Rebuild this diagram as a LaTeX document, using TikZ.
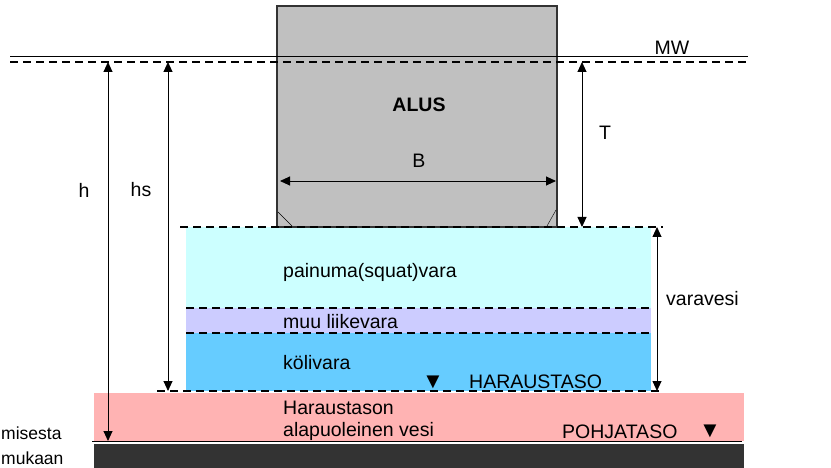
\documentclass[tikz,border=0pt]{standalone}
\usepackage{fontspec}
\setmainfont{Liberation Sans}
\usetikzlibrary{arrows.meta}

\definecolor{shipgray}{HTML}{C0C0C0}
\definecolor{squatcol}{HTML}{CCFFFF}
\definecolor{motioncol}{HTML}{CCCCFF}
\definecolor{keelcol}{HTML}{66CCFF}
\definecolor{bedcol}{HTML}{FFB3B3}
\definecolor{bottomcol}{HTML}{333333}

\tikzset{
  lvl/.style={dash pattern=on 8pt off 5pt, line width=1.2pt},
  dim/.style={{Triangle[length=10pt,width=9pt]}-{Triangle[length=10pt,width=9pt]}, line width=0.9pt},
  txt/.style={inner sep=0pt, font=\fontsize{19.5}{22}\selectfont},
  levelmark/.style={inner sep=0pt, font=\fontsize{22}{22}\selectfont}
}

\begin{document}
\begin{tikzpicture}[x=1pt,y=-1pt]
  \useasboundingbox (0,0) rectangle (831,468);

  % layers under the keel
  \fill[bedcol] (94,393) rectangle (744,441);
  \fill[bottomcol] (94,444) rectangle (744,468);
  \fill[squatcol] (186,227) rectangle (651,308);
  \fill[motioncol] (186,308) rectangle (651,333);
  \fill[keelcol] (186,333) rectangle (651,391);
  \draw[line width=1pt] (92,441) -- (742,441);

  % ship
  \draw[fill=shipgray, draw=bottomcol, line width=1.2pt] (277,6) rectangle (557,227);
  \draw (278,212) -- (292,226);
  \draw (556,210) -- (547,226);

  % water levels
  \draw[line width=1pt] (10,57) -- (748,57);
  \draw[lvl] (10,62) -- (748,62);
  \draw[lvl] (180,227) -- (663,227);
  \draw[lvl] (186,308) -- (651,308);
  \draw[lvl] (186,333) -- (651,333);
  \draw[lvl] (157,391) -- (662,391);

  % end points of the dimensions
  \coordinate (hTop) at (108,62);
  \coordinate (hBot) at (108,441);
  \coordinate (hsTop) at (168,62);
  \coordinate (hsBot) at (168,391);
  \coordinate (tTop) at (582,62);
  \coordinate (tBot) at (582,227);
  \coordinate (vTop) at (657,227);
  \coordinate (vBot) at (657,391);
  \coordinate (bL) at (280,181);
  \coordinate (bR) at (556,181);

  \draw[dim] (hTop) -- (hBot);
  \draw[dim] (hsTop) -- (hsBot);
  \draw[dim] (tTop) -- (tBot);
  \draw[dim] (vTop) -- (vBot);
  \draw[dim] (bL) -- (bR);

  % labels
  \node[txt] (alus) at (419,105) {\bfseries ALUS};
  \node[txt] (b) at (419,161) {B};
  \node[txt] (mw) at (672,48) {MW};
  \node[txt] (h) at (84,190) {h};
  \node[txt] (hs) at (141,190) {hs};
  \node[txt] (t) at (605,133) {T};
  \node[txt,anchor=west] (varavesi) at (666,299) {varavesi};
  \node[txt,anchor=west] (squat) at (283,272) {painuma(squat)vara};
  \node[txt,anchor=west] (liike) at (283,322) {muu liikevara};
  \node[txt,anchor=west] (koli) at (283,363) {kölivara};
  \node[txt,anchor=west] (haraus) at (469,382) {HARAUSTASO};
  \node[levelmark] (harausMark) at (433,382) {▼};
  \node[txt,anchor=west] (alap1) at (283,408) {Haraustason};
  \node[txt,anchor=west] (alap2) at (283,431) {alapuoleinen vesi};
  \node[txt,anchor=west] (pohja) at (562,432) {POHJATASO};
  \node[levelmark] (pohjaMark) at (710,431) {▼};
  \node[txt,anchor=west,font=\fontsize{17.5}{20}\selectfont] (cut1) at (1,433) {misesta};
  \node[txt,anchor=west,font=\fontsize{17.5}{20}\selectfont] (cut2) at (1,458) {mukaan};
\end{tikzpicture}
\end{document}
